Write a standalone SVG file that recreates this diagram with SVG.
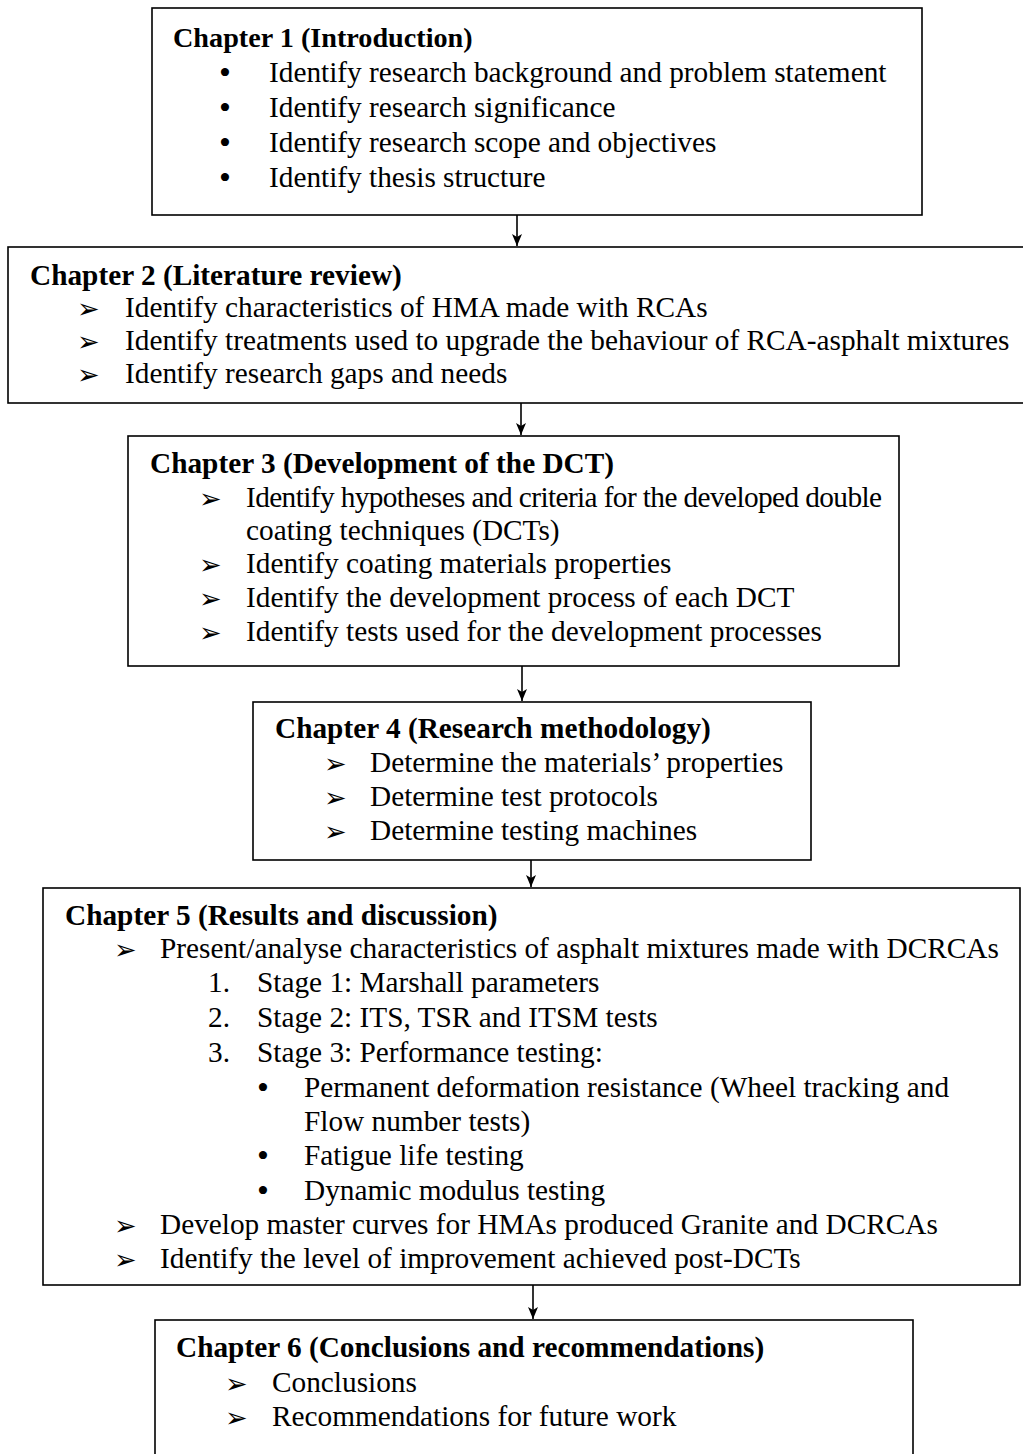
<svg xmlns="http://www.w3.org/2000/svg" width="1023" height="1454" viewBox="0 0 1023 1454">
<style>
.box{fill:#fff;stroke:#000;stroke-width:1.6}
.h{font-family:"Liberation Serif","Times New Roman",serif;font-size:29.3px;font-weight:bold;fill:#000}
.h1{font-size:28.2px}
.t{font-family:"Liberation Serif","Times New Roman",serif;font-size:29.3px;fill:#000}
.b{font-family:"Liberation Serif","Times New Roman",serif;font-size:34px;fill:#000}
.a{font-family:"DejaVu Sans",sans-serif;font-size:27px;fill:#000}
.conn{stroke:#000;stroke-width:1.6;fill:none;marker-end:url(#ah)}
</style>
<defs>
<marker id="ah" viewBox="0 0 10 12" refX="5" refY="12" markerWidth="10" markerHeight="12" markerUnits="userSpaceOnUse" orient="0">
<path d="M0,0 L5,3 L10,0 L5,12 z" fill="#000"/>
</marker>
</defs>
<rect width="1023" height="1454" fill="#fff"/>
<g id="ch1">
<rect class="box" x="152" y="8" width="770" height="207"/>
<text class="h h1" x="173" y="47">Chapter 1 (Introduction)</text>
<text class="b" x="219" y="84">•</text><text class="t" x="269" y="82">Identify research background and problem statement</text>
<text class="b" x="219" y="119">•</text><text class="t" x="269" y="117">Identify research significance</text>
<text class="b" x="219" y="154">•</text><text class="t" x="269" y="152">Identify research scope and objectives</text>
<text class="b" x="219" y="189">•</text><text class="t" x="269" y="187">Identify thesis structure</text>
</g>
<g id="ch2">
<rect class="box" x="8" y="247" width="1020" height="156"/>
<text class="h" x="30" y="285">Chapter 2 (Literature review)</text>
<text class="a" x="77" y="318">➢</text><text class="t" x="125" y="317">Identify characteristics of HMA made with RCAs</text>
<text class="a" x="77" y="351">➢</text><text class="t" x="125" y="350">Identify treatments used to upgrade the behaviour of RCA-asphalt mixtures</text>
<text class="a" x="77" y="384">➢</text><text class="t" x="125" y="383">Identify research gaps and needs</text>
</g>
<g id="ch3">
<rect class="box" x="128" y="436" width="771" height="230"/>
<text class="h" x="150" y="473">Chapter 3 (Development of the DCT)</text>
<text class="a" x="199" y="508">➢</text><text class="t" x="246" y="507" textLength="636" lengthAdjust="spacing">Identify hypotheses and criteria for the developed double</text>
<text class="t" x="246" y="540">coating techniques (DCTs)</text>
<text class="a" x="199" y="574">➢</text><text class="t" x="246" y="573">Identify coating materials properties</text>
<text class="a" x="199" y="608">➢</text><text class="t" x="246" y="607">Identify the development process of each DCT</text>
<text class="a" x="199" y="642">➢</text><text class="t" x="246" y="641">Identify tests used for the development processes</text>
</g>
<g id="ch4">
<rect class="box" x="253" y="702" width="558" height="158"/>
<text class="h" x="275" y="738">Chapter 4 (Research methodology)</text>
<text class="a" x="324" y="773">➢</text><text class="t" x="370" y="772">Determine the materials’ properties</text>
<text class="a" x="324" y="807">➢</text><text class="t" x="370" y="806">Determine test protocols</text>
<text class="a" x="324" y="841">➢</text><text class="t" x="370" y="840">Determine testing machines</text>
</g>
<g id="ch5">
<rect class="box" x="43" y="888" width="977" height="397"/>
<text class="h" x="65" y="925">Chapter 5 (Results and discussion)</text>
<text class="a" x="114" y="959">➢</text><text class="t" x="160" y="958">Present/analyse characteristics of asphalt mixtures made with DCRCAs</text>
<text class="t" x="208" y="992">1.</text><text class="t" x="257" y="992">Stage 1: Marshall parameters</text>
<text class="t" x="208" y="1027">2.</text><text class="t" x="257" y="1027">Stage 2: ITS, TSR and ITSM tests</text>
<text class="t" x="208" y="1062">3.</text><text class="t" x="257" y="1062">Stage 3: Performance testing:</text>
<text class="b" x="257" y="1099">•</text><text class="t" x="304" y="1097">Permanent deformation resistance (Wheel tracking and</text>
<text class="t" x="304" y="1131">Flow number tests)</text>
<text class="b" x="257" y="1167">•</text><text class="t" x="304" y="1165">Fatigue life testing</text>
<text class="b" x="257" y="1202">•</text><text class="t" x="304" y="1200">Dynamic modulus testing</text>
<text class="a" x="114" y="1235">➢</text><text class="t" x="160" y="1234">Develop master curves for HMAs produced Granite and DCRCAs</text>
<text class="a" x="114" y="1269">➢</text><text class="t" x="160" y="1268">Identify the level of improvement achieved post-DCTs</text>
</g>
<g id="ch6">
<rect class="box" x="155" y="1320" width="758" height="150"/>
<text class="h" x="176" y="1357">Chapter 6 (Conclusions and recommendations)</text>
<text class="a" x="225" y="1393">➢</text><text class="t" x="272" y="1392">Conclusions</text>
<text class="a" x="225" y="1427">➢</text><text class="t" x="272" y="1426">Recommendations for future work</text>
</g>
<g id="connectors">
<line class="conn" x1="517" y1="215" x2="517" y2="246"/>
<line class="conn" x1="521" y1="403" x2="521" y2="435"/>
<line class="conn" x1="522" y1="666" x2="522" y2="701"/>
<line class="conn" x1="531" y1="860" x2="531" y2="887"/>
<line class="conn" x1="533" y1="1285" x2="533" y2="1319"/>
</g>
</svg>
